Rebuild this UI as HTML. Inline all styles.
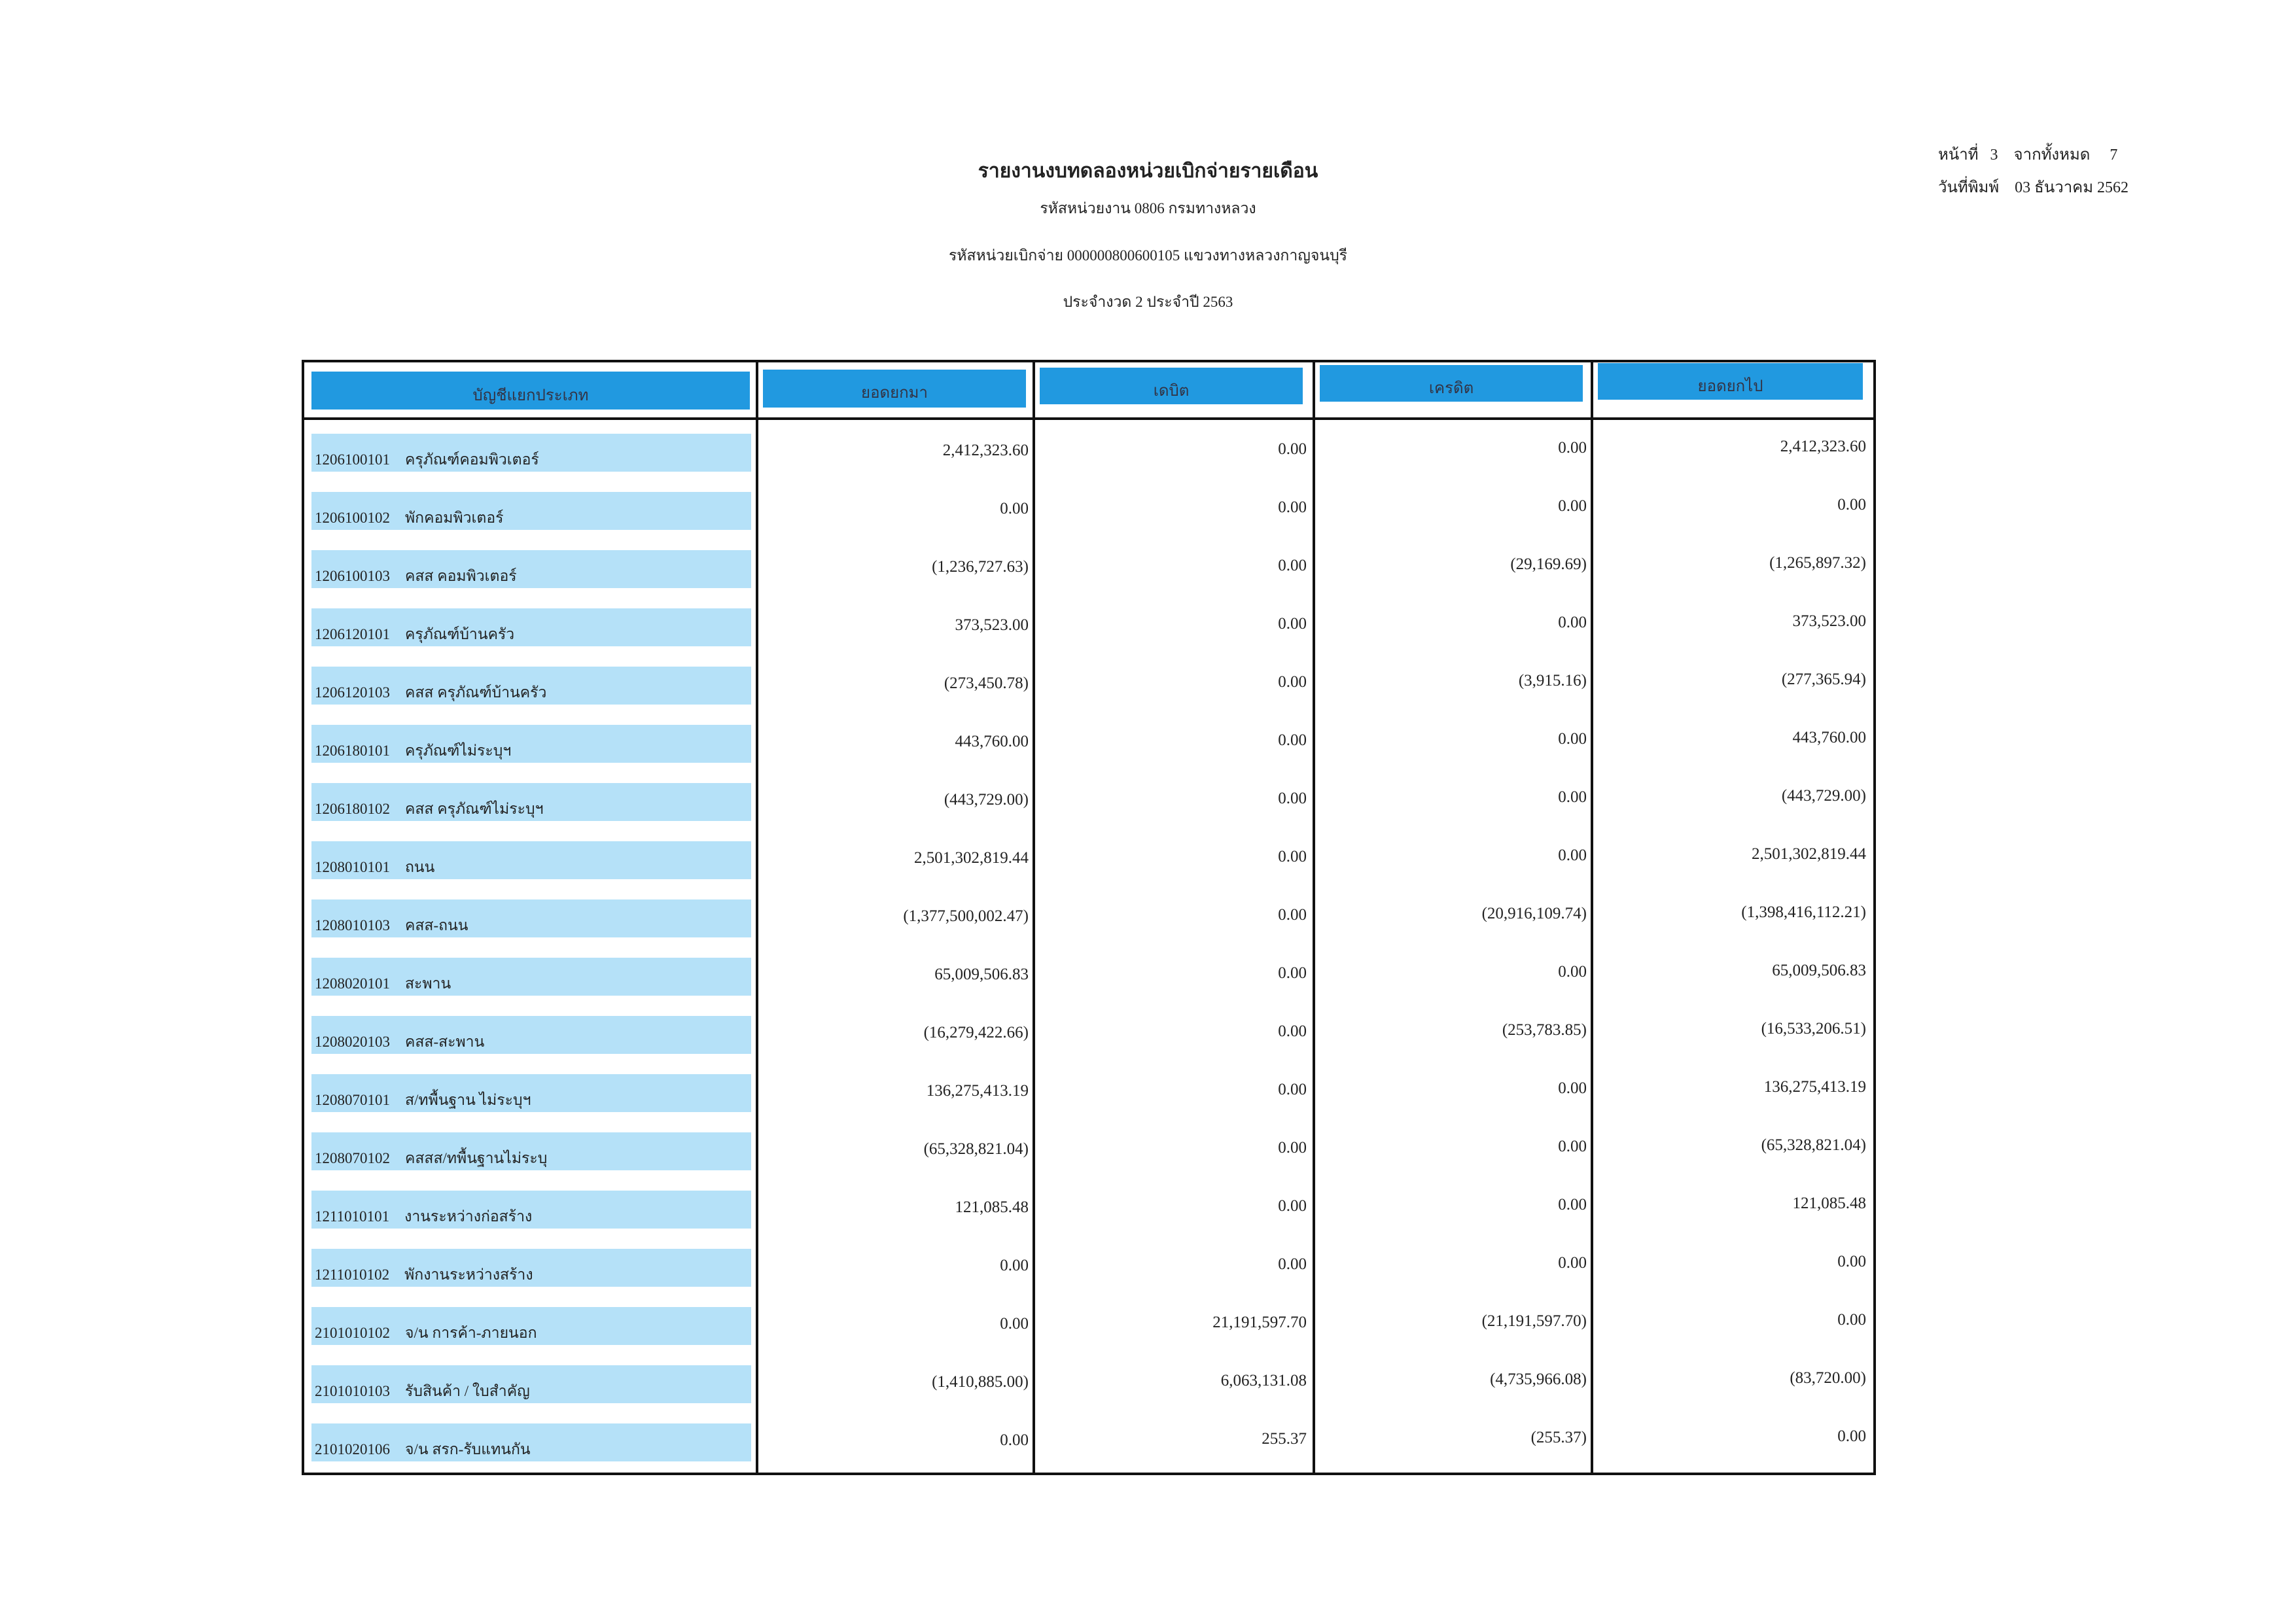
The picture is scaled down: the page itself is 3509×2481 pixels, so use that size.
<!DOCTYPE html>
<html><head><meta charset="utf-8"><style>
body{margin:0;width:3509px;height:2481px;background:#fff;position:relative;overflow:hidden;font-family:"Liberation Serif","Noto Serif CJK SC",serif;color:#222}
.t{position:absolute;white-space:nowrap}
.c{left:0;width:3509px;text-align:center;font-size:23px}
.bar{position:absolute;background:#2199e0}
.lb{position:absolute;background:#b5e1f8;left:476px;width:672px;height:58px}
.code{position:absolute;left:481px;font-size:23px}
.n{position:absolute;font-size:25px;text-align:right}
.v{position:absolute;background:#111;width:4px}
.h{position:absolute;background:#111;height:4px}
.hd{position:absolute;font-size:24px;text-align:center;color:#334}
</style></head><body>
<div class="t c" style="top:238px;font-size:30px;font-weight:bold">รายงานงบทดลองหน่วยเบิกจ่ายรายเดือน</div>
<div class="t c" style="top:301px">รหัสหน่วยงาน 0806 กรมทางหลวง</div>
<div class="t c" style="top:373px">รหัสหน่วยเบิกจ่าย 000000800600105 แขวงทางหลวงกาญจนบุรี</div>
<div class="t c" style="top:444px">ประจำงวด 2 ประจำปี 2563</div>
<div class="t" style="left:2962px;top:216px;font-size:24px">หน้าที่&nbsp;&nbsp;&nbsp;3&nbsp;&nbsp;&nbsp;&nbsp;จากทั้งหมด&nbsp;&nbsp;&nbsp;&nbsp;&nbsp;7</div>
<div class="t" style="left:2962px;top:266px;font-size:24px">วันที่พิมพ์&nbsp;&nbsp;&nbsp;&nbsp;03 ธันวาคม 2562</div>

<div class="h" style="left:461px;top:550px;width:2406px"></div>
<div class="h" style="left:461px;top:638px;width:2406px"></div>
<div class="h" style="left:461px;top:2251px;width:2406px"></div>
<div class="v" style="left:461px;top:550px;height:1705px"></div>
<div class="v" style="left:1155px;top:550px;height:1705px"></div>
<div class="v" style="left:1578px;top:550px;height:1705px"></div>
<div class="v" style="left:2006px;top:550px;height:1705px"></div>
<div class="v" style="left:2431px;top:550px;height:1705px"></div>
<div class="v" style="left:2863px;top:550px;height:1705px"></div>

<div class="bar" style="left:476px;top:568px;width:670px;height:58px"></div>
<div class="bar" style="left:1166px;top:565px;width:402px;height:58px"></div>
<div class="bar" style="left:1589px;top:562px;width:402px;height:56px"></div>
<div class="bar" style="left:2017px;top:558px;width:402px;height:56px"></div>
<div class="bar" style="left:2442px;top:555px;width:405px;height:56px"></div>
<div class="hd" style="left:476px;top:584px;width:670px">บัญชีแยกประเภท</div>
<div class="hd" style="left:1166px;top:580px;width:402px">ยอดยกมา</div>
<div class="hd" style="left:1589px;top:577px;width:402px">เดบิต</div>
<div class="hd" style="left:2017px;top:573px;width:402px">เครดิต</div>
<div class="hd" style="left:2442px;top:570px;width:405px">ยอดยกไป</div>

<div id="rows"></div>
<script>
var d=[["1206100101","ครุภัณฑ์คอมพิวเตอร์","2,412,323.60","0.00","0.00","2,412,323.60"],
["1206100102","พักคอมพิวเตอร์","0.00","0.00","0.00","0.00"],
["1206100103","คสส คอมพิวเตอร์","(1,236,727.63)","0.00","(29,169.69)","(1,265,897.32)"],
["1206120101","ครุภัณฑ์บ้านครัว","373,523.00","0.00","0.00","373,523.00"],
["1206120103","คสส ครุภัณฑ์บ้านครัว","(273,450.78)","0.00","(3,915.16)","(277,365.94)"],
["1206180101","ครุภัณฑ์ไม่ระบุฯ","443,760.00","0.00","0.00","443,760.00"],
["1206180102","คสส ครุภัณฑ์ไม่ระบุฯ","(443,729.00)","0.00","0.00","(443,729.00)"],
["1208010101","ถนน","2,501,302,819.44","0.00","0.00","2,501,302,819.44"],
["1208010103","คสส-ถนน","(1,377,500,002.47)","0.00","(20,916,109.74)","(1,398,416,112.21)"],
["1208020101","สะพาน","65,009,506.83","0.00","0.00","65,009,506.83"],
["1208020103","คสส-สะพาน","(16,279,422.66)","0.00","(253,783.85)","(16,533,206.51)"],
["1208070101","ส/ทพื้นฐาน ไม่ระบุฯ","136,275,413.19","0.00","0.00","136,275,413.19"],
["1208070102","คสสส/ทพื้นฐานไม่ระบุ","(65,328,821.04)","0.00","0.00","(65,328,821.04)"],
["1211010101","งานระหว่างก่อสร้าง","121,085.48","0.00","0.00","121,085.48"],
["1211010102","พักงานระหว่างสร้าง","0.00","0.00","0.00","0.00"],
["2101010102","จ/น การค้า-ภายนอก","0.00","21,191,597.70","(21,191,597.70)","0.00"],
["2101010103","รับสินค้า / ใบสำคัญ","(1,410,885.00)","6,063,131.08","(4,735,966.08)","(83,720.00)"],
["2101020106","จ/น สรก-รับแทนกัน","0.00","255.37","(255.37)","0.00"]];
var rights=[1572,1997,2425,2852],h="";
for(var i=0;i<d.length;i++){var y=663+i*89;
h+='<div class="lb" style="top:'+y+'px"></div>';
h+='<div class="code" style="top:'+(y+22)+'px">'+d[i][0]+'&nbsp;&nbsp;&nbsp;&nbsp;'+d[i][1]+'</div>';
for(var j=0;j<4;j++){h+='<div class="n" style="left:'+(rights[j]-420)+'px;width:420px;top:'+(y+12-j*2)+'px">'+d[i][j+2]+'</div>';}}
document.getElementById('rows').innerHTML=h;
</script>
</body></html>
